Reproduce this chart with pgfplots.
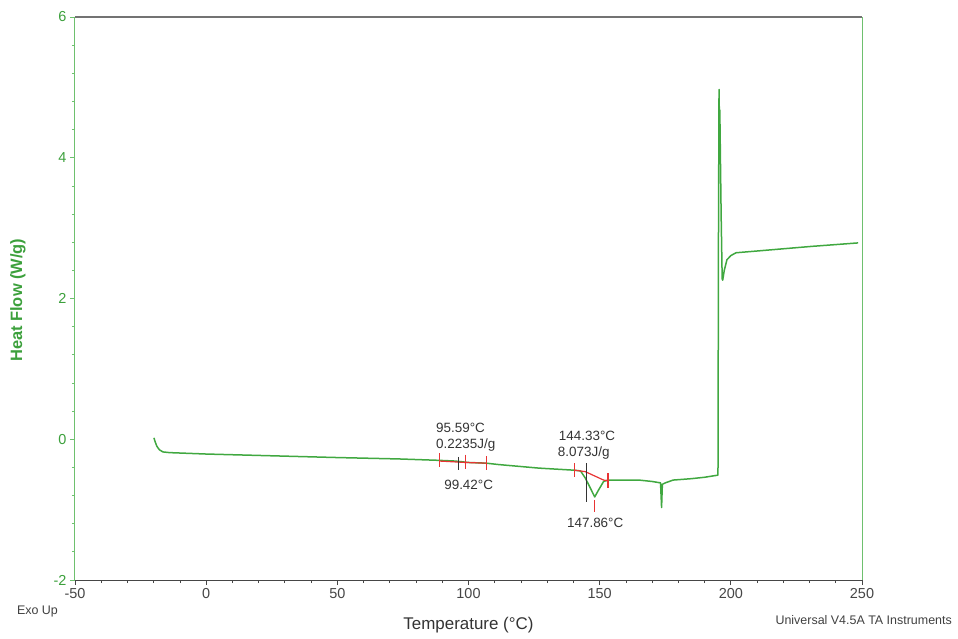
\documentclass[border=0pt]{standalone}
\usepackage{fontspec}
\setmainfont{Liberation Sans}
\usepackage{pgfplots}
\pgfplotsset{compat=1.18}
\definecolor{curvegreen}{RGB}{64,168,64}
\definecolor{axisgreen}{RGB}{110,192,110}
\definecolor{labgreen}{RGB}{60,160,60}
\definecolor{dscred}{RGB}{232,52,52}
\definecolor{tickgray}{RGB}{70,70,70}

\begin{document}
\begin{tikzpicture}
\path[use as bounding box] (-75bp,-59bp) rectangle (883bp,580bp);
\begin{axis}[
  at={(0,0)}, anchor=south west,
  width=787bp, height=563bp, scale only axis,
  xmin=-50, xmax=250, ymin=-2, ymax=6,
  xtick={-50,0,...,250}, ytick={-2,0,...,6},
  minor x tick num=4, minor y tick num=4,
  xtick pos=bottom, ytick pos=left,
  tick align=outside,
  major tick length=5bp, minor tick length=3bp,
  x tick style={tickgray, line width=0.8bp},
  y tick style={axisgreen, line width=0.8bp},
  axis line style={draw=none},
  /pgf/number format/assume math mode=true,
  ticklabel style={font=\fontsize{14.5}{16}\selectfont},
  xticklabel style={text=tickgray},
  yticklabel style={text=labgreen},
  xlabel={Temperature (°C)},
  ylabel={Heat Flow (W/g)},
  xlabel style={at={(axis description cs:0.5,-0.080)}, anchor=center,
    font=\fontsize{17}{19}\selectfont, text=black!80},
  ylabel style={at={(axis description cs:-0.0724,0.497)}, anchor=center,
    rotate=0, font=\fontsize{16.5}{18}\selectfont\bfseries, text=labgreen},
  clip=false,
]
% spines
\draw[axisgreen, line width=1bp] (rel axis cs:0,0) -- (rel axis cs:0,1);
\draw[axisgreen, line width=1bp] (rel axis cs:1,0) -- (rel axis cs:1,1);
\draw[black!55, line width=1.2bp] (rel axis cs:0,1) -- (rel axis cs:1,1);
\draw[tickgray, line width=1bp] (rel axis cs:0,0) -- (rel axis cs:1,0);

% heat flow curve
\addplot[curvegreen, line width=1.5bp, line join=round] coordinates {
  (-19.9,0.02) (-19.5,-0.03) (-18.8,-0.10) (-17.8,-0.15) (-16.5,-0.18)
  (-14,-0.19) (0,-0.21) (20,-0.23) (50,-0.26) (73.6,-0.28) (89,-0.30)
  (95,-0.31) (100,-0.33) (106.8,-0.34) (111.6,-0.36) (126.8,-0.41)
  (140.4,-0.44) (142.7,-0.45) (144.5,-0.55) (146.4,-0.69) (148.1,-0.82)
  (149.6,-0.72) (151.5,-0.60) (153.2,-0.58) (162.2,-0.58) (165,-0.58)
  (170,-0.60) (173.2,-0.62) (173.6,-0.97) (173.9,-0.64) (175,-0.62)
  (178,-0.58) (185,-0.56) (190,-0.54) (195.1,-0.51) (195.3,3.0)
  (195.5,4.97) (195.6,4.68) (195.8,4.68) (196.3,3.2) (196.7,2.28) (196.9,2.26)
  (197.5,2.40) (198.5,2.55) (200,2.61) (202,2.65) (211.6,2.68)
  (230.6,2.74) (248.5,2.79)
};

% integration 1
\addplot[dscred, line width=1.2bp] coordinates {(89.0,-0.31) (98.9,-0.33) (106.8,-0.34)};
\addplot[dscred, line width=1.2bp] coordinates {(89.0,-0.20) (89.0,-0.40)};
\addplot[dscred, line width=1.2bp] coordinates {(98.9,-0.22) (98.9,-0.42)};
\addplot[dscred, line width=1.2bp] coordinates {(106.8,-0.24) (106.8,-0.44)};
\addplot[black!80, line width=1bp] coordinates {(96.0,-0.25) (96.0,-0.44)};

% integration 2
\addplot[dscred, line width=1.2bp] coordinates {(140.4,-0.44) (144.5,-0.46) (151.5,-0.58) (153.2,-0.59)};
\addplot[dscred, line width=1.2bp] coordinates {(140.4,-0.34) (140.4,-0.53)};
\addplot[dscred, line width=1.2bp] coordinates {(153.2,-0.48) (153.2,-0.69)};
\addplot[black!80, line width=1bp] coordinates {(144.9,-0.34) (144.9,-0.89)};
\addplot[dscred, line width=1.2bp] coordinates {(148.1,-0.86) (148.1,-1.03)};

% annotations
\begin{scope}[every node/.style={font=\fontsize{13.5}{15}\selectfont, text=black!80, anchor=west, inner sep=0pt}]
\node at (axis cs:87.6,0.16) {95.59°C};
\node at (axis cs:87.6,-0.08) {0.2235J/g};
\node at (axis cs:90.7,-0.65) {99.42°C};
\node at (axis cs:134.4,0.05) {144.33°C};
\node at (axis cs:134.0,-0.19) {8.073J/g};
\node at (axis cs:137.5,-1.19) {147.86°C};
\end{scope}
\end{axis}
\node[font=\fontsize{12.5}{14}\selectfont, text=black!75, inner sep=0pt] at (-37.5bp,-32bp) {Exo Up};
\node[font=\fontsize{12.5}{14}\selectfont, text=black!75, anchor=east, inner sep=0pt] at (877bp,-40bp) {Universal V4.5A TA Instruments};
\end{tikzpicture}
\end{document}
